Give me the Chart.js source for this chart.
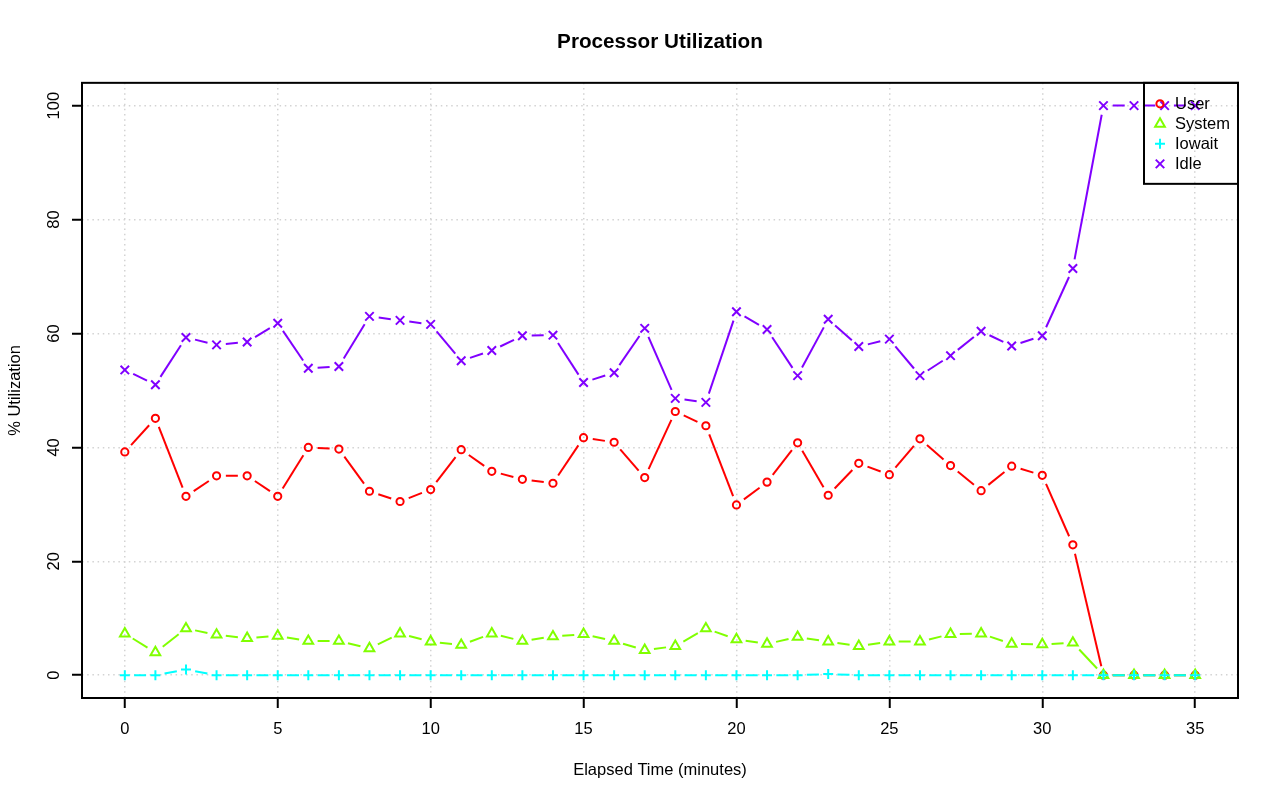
<!DOCTYPE html>
<html>
<head>
<meta charset="utf-8">
<title>Processor Utilization</title>
<script src="https://cdn.jsdelivr.net/npm/chart.js@4.4.1/dist/chart.umd.min.js"></script>
<style>
  html, body { margin: 0; padding: 0; background: #fff; }
  canvas { display: block; }
</style>
</head>
<body>
<canvas id="cpu-chart" width="1280" height="801"></canvas>
<script>
// Data (percent per minute)
const minutes = [0, 1, 2, 3, 4, 5, 6, 7, 8, 9, 10, 11, 12, 13, 14, 15, 16, 17,
  18, 19, 20, 21, 22, 23, 24, 25, 26, 27, 28, 29, 30, 31, 32, 33, 34, 35];
const userPct = [39.2, 45.1, 31.4, 35.0, 35.0, 31.4, 40.0, 39.7, 32.3, 30.5, 32.6, 39.6,
  35.8, 34.4, 33.7, 41.7, 40.9, 34.7, 46.3, 43.8, 29.9, 33.9, 40.8, 31.6,
  37.2, 35.2, 41.5, 36.8, 32.4, 36.7, 35.1, 22.9, 0, 0, 0, 0];
const systemPct = [7.3, 4.0, 8.2, 7.1, 6.5, 6.9, 6.0, 6.0, 4.7, 7.3, 5.9, 5.3,
  7.3, 6.0, 6.8, 7.2, 6.0, 4.4, 5.1, 8.2, 6.3, 5.5, 6.7, 5.9,
  5.1, 5.9, 5.9, 7.2, 7.3, 5.5, 5.4, 5.7, 0, 0, 0, 0];
const iowaitPct = [0, 0, 1.0, 0, 0, 0, 0, 0, 0, 0, 0, 0,
  0, 0, 0, 0, 0, 0, 0, 0, 0, 0, 0, 0.2,
  0, 0, 0, 0, 0, 0, 0, 0, 0, 0, 0, 0];
const idlePct = [53.6, 51.0, 59.3, 58.0, 58.5, 61.8, 53.9, 54.2, 63.0, 62.3, 61.6, 55.2,
  57.0, 59.6, 59.7, 51.4, 53.1, 60.9, 48.6, 47.9, 63.8, 60.7, 52.6, 62.5,
  57.7, 59.0, 52.6, 56.1, 60.4, 57.8, 59.6, 71.4, 100, 100, 100, 100];

// Tick labels
const xTicks = [0, 5, 10, 15, 20, 25, 30, 35];
const yTicks = [0, 20, 40, 60, 80, 100];

const fontFamily = '"Liberation Sans", Arial, Helvetica, sans-serif';
Chart.defaults.font.family = fontFamily;
Chart.defaults.font.size = 16.5;
Chart.defaults.color = '#000';

const toPoints = (values) => values.map((v, i) => ({ x: minutes[i], y: v }));

// R rainbow(4) palette
const series = [
  { label: 'User', values: userPct, color: '#FF0000', style: 'circle', radius: 3.6 },
  { label: 'System', values: systemPct, color: '#80FF00', style: 'triangle', radius: 5.6 },
  { label: 'Iowait', values: iowaitPct, color: '#00FFFF', style: 'cross', radius: 5 },
  { label: 'Idle', values: idlePct, color: '#8000FF', style: 'crossRot', radius: 6 },
];

// type = "b" look: leave a gap round each point
const POINT_GAP = 9.3;
const gapDash = (c) => {
  const len = Math.hypot(c.p1.x - c.p0.x, c.p1.y - c.p0.y);
  if (len <= POINT_GAP * 2) return [0, len + 1];
  return [0, POINT_GAP, len - POINT_GAP * 2, POINT_GAP];
};

// Full box round the plot area
const plotFrame = {
  id: 'plotFrame',
  afterDraw(c) {
    const { ctx, chartArea: a } = c;
    ctx.save();
    ctx.strokeStyle = '#000';
    ctx.lineWidth = 2;
    ctx.strokeRect(a.left, a.top, a.right - a.left, a.bottom - a.top);
    ctx.restore();
  },
};

// Legend in the top-right corner, inside the plot, no background
const cornerLegend = {
  id: 'cornerLegend',
  afterDraw(c) {
    const { ctx, chartArea: a } = c;
    const w = 94;
    const h = 101;
    const x0 = a.right - w;
    const y0 = a.top;
    ctx.save();
    ctx.strokeStyle = '#000';
    ctx.lineWidth = 2;
    ctx.strokeRect(x0, y0, w, h);
    ctx.font = '16.5px ' + fontFamily;
    ctx.textBaseline = 'middle';
    ctx.textAlign = 'left';
    c.data.datasets.forEach((ds, i) => {
      const y = y0 + 21 + i * 20;
      ctx.strokeStyle = ds.borderColor;
      ctx.fillStyle = 'rgba(0,0,0,0)';
      ctx.lineWidth = 2;
      ctx.setLineDash([]);
      Chart.helpers.drawPoint(ctx, {
        pointStyle: ds.pointStyle,
        radius: ds.pointRadius,
        borderWidth: 2,
        rotation: 0,
      }, x0 + 16, y);
      ctx.fillStyle = '#000';
      ctx.fillText(ds.label, x0 + 31, y + 1);
    });
    ctx.restore();
  },
};

const gridStyle = {
  color: '#D3D3D3',
  lineWidth: 1.5,
  tickLength: 10,
  tickColor: '#000',
  tickWidth: 2,
  tickBorderDash: [],
};
// in Chart.js 4 the grid line dash is read from border.dash
const borderStyle = { display: false, dash: [1.5, 3.7] };

const ctx = document.getElementById('cpu-chart');
const chart = new Chart(ctx, {
  type: 'line',
  data: {
    datasets: series.map((s, i) => ({
      label: s.label,
      data: toPoints(s.values),
      borderColor: s.color,
      borderWidth: 2,
      pointStyle: s.style,
      pointRadius: s.radius,
      pointBorderWidth: 2,
      pointBorderColor: s.color,
      pointBackgroundColor: 'rgba(0,0,0,0)',
      fill: false,
      tension: 0,
      order: series.length - i,
      segment: {
        borderDash: gapDash,
      },
    })),
  },
  options: {
    responsive: false,
    devicePixelRatio: 1,
    animation: false,
    layout: {
      padding: { left: 0, right: 42, top: 0, bottom: 0 },
    },
    scales: {
      x: {
        type: 'linear',
        min: -1.4,
        max: 36.4,
        afterBuildTicks(scale) {
          scale.ticks = xTicks.map((v) => ({ value: v }));
        },
        afterFit(scale) {
          scale.height = 103;
        },
        ticks: {
          padding: 12,
          callback: (v) => String(v),
        },
        grid: gridStyle,
        border: borderStyle,
        title: {
          display: true,
          text: 'Elapsed Time (minutes)',
          padding: { top: 0, bottom: 21 },
        },
      },
      y: {
        type: 'linear',
        min: -4,
        max: 104,
        afterBuildTicks(scale) {
          scale.ticks = yTicks.map((v) => ({ value: v }));
        },
        afterFit(scale) {
          scale.width = 82;
        },
        ticks: {
          minRotation: 90,
          maxRotation: 90,
          crossAlign: 'center',
          padding: 4,
          callback: (v) => String(v),
        },
        grid: gridStyle,
        border: borderStyle,
        title: {
          display: true,
          text: '% Utilization',
          padding: { top: 6, bottom: 0 },
        },
      },
    },
    plugins: {
      legend: { display: false },
      tooltip: { enabled: false },
      title: {
        display: true,
        fullSize: false,
        text: 'Processor Utilization',
        font: { size: 20.7, weight: 'bold' },
        padding: { top: 30, bottom: 28 },
      },
    },
  },
  plugins: [plotFrame, cornerLegend],
});
</script>
</body>
</html>
